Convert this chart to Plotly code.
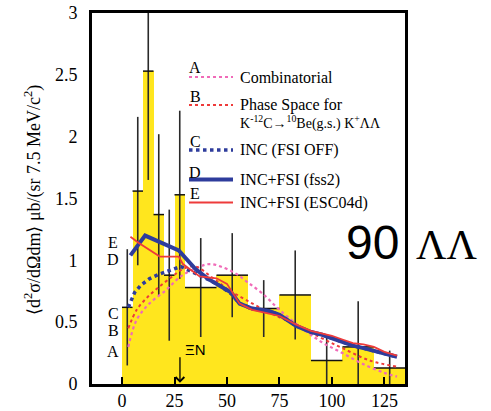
import plotly.graph_objects as go

# ---------------- data ----------------
bin_lo = [0, 5, 10, 15, 20, 25, 30, 45, 60, 75, 90, 105, 120]
bin_hi = [5, 10, 15, 20, 25, 30, 45, 60, 75, 90, 105, 120, 135]
counts = [0.62, 1.56, 2.53, 1.37, 0.88, 1.53, 0.78, 0.88, 0.61, 0.72, 0.19, 0.30, 0.13]
errors = [0.47, 0.60, 0.88, 0.65, 0.53, 0.68, 0.40, 0.34, 0.23, 0.36, 0.19, 0.37, 0.14]

a_x = [3, 7, 13, 21, 28, 37, 42, 47, 54, 60, 67, 75, 85, 95, 105, 115, 125, 131]
a_y = [0.30, 0.52, 0.65, 0.76, 0.87, 0.95, 0.97, 0.95, 0.895, 0.82, 0.73, 0.60, 0.46, 0.34, 0.25, 0.16, 0.09, 0.06]

b_x = [3, 7, 12, 18, 24, 29, 35, 43, 51, 59, 70, 80, 94, 105, 118, 131]
b_y = [0.45, 0.60, 0.70, 0.79, 0.87, 0.93, 0.95, 0.86, 0.76, 0.68, 0.58, 0.50, 0.38, 0.29, 0.19, 0.14]

c_x = [3, 6, 9, 13, 18, 24, 28, 33, 38, 43, 47, 52, 56, 62, 70, 75, 83, 90, 95, 100, 105, 110, 115, 120, 125, 131]
c_y = [0.62, 0.74, 0.80, 0.85, 0.89, 0.93, 0.95, 0.91, 0.87, 0.83, 0.79, 0.73, 0.65, 0.61, 0.59, 0.56, 0.47, 0.42, 0.40, 0.37, 0.34, 0.31, 0.29, 0.27, 0.25, 0.22]

d_x = [4, 11, 27, 35, 41, 47, 52, 56, 62, 70, 75, 83, 90, 95, 100, 105, 110, 115, 120, 125, 131]
d_y = [1.04, 1.20, 1.08, 0.93, 0.85, 0.79, 0.74, 0.65, 0.61, 0.59, 0.56, 0.47, 0.42, 0.40, 0.37, 0.34, 0.31, 0.29, 0.27, 0.25, 0.22]

e_x = [4, 8, 18, 27, 29, 37, 45, 50, 56, 62, 70, 75, 83, 90, 95, 100, 105, 110, 115, 120, 125, 131]
e_y = [1.19, 1.14, 1.03, 1.03, 0.97, 0.87, 0.855, 0.81, 0.65, 0.60, 0.57, 0.55, 0.48, 0.43, 0.41, 0.39, 0.36, 0.33, 0.32, 0.30, 0.26, 0.23]

x_ticks = [0, 25, 50, 75, 100, 125]
y_ticks = [0, 0.5, 1, 1.5, 2, 2.5, 3]
y_ticktext = ["0", "0.5", "1", "1.5", "2", "2.5", "3"]

xi_threshold = 27.6

# ---------------- styling ----------------
SERIF = "Liberation Serif"
SANS = "Liberation Sans"
YELLOW = "#FFE61E"
PINK = "#F06AB8"
REDDOT = "#EE3A3A"
BLUE = "#2E3C9C"
RED = "#EE3B3B"

W_FIG, H_FIG = 491, 411
# plot frame in pixels
L, R, T, B = 92, 405, 13, 384
PW, PH = R - L, B - T


def pp(px, py):
    """pixel -> paper coords"""
    return (px - L) / PW, (B - py) / PH


centers = [(lo + hi) / 2 for lo, hi in zip(bin_lo, bin_hi)]
widths = [hi - lo for lo, hi in zip(bin_lo, bin_hi)]
halfw = [w / 2 for w in widths]

fig = go.Figure()
fig.add_trace(go.Bar(x=centers, y=counts, width=widths, marker=dict(color=YELLOW, line=dict(width=0)),
                     showlegend=False, hoverinfo="skip"))
fig.add_trace(go.Scatter(x=centers, y=counts, mode="markers", marker=dict(size=0.1, color="rgba(0,0,0,0)"),
                         error_y=dict(type="data", array=errors, visible=True, color="#2a2a2a", thickness=1.6, width=0),
                         error_x=dict(type="data", array=halfw, visible=True, color="#111111", thickness=1.5, width=0),
                         showlegend=False, hoverinfo="skip"))

fig.add_trace(go.Scatter(x=a_x, y=a_y, mode="lines", line=dict(color=PINK, width=2.2, dash="dot", shape="spline"), showlegend=False))
fig.add_trace(go.Scatter(x=b_x, y=b_y, mode="lines", line=dict(color=REDDOT, width=2, dash="dot", shape="spline"), showlegend=False))
fig.add_trace(go.Scatter(x=c_x, y=c_y, mode="lines", line=dict(color=BLUE, width=3.5, dash="dot"), showlegend=False))
fig.add_trace(go.Scatter(x=d_x, y=d_y, mode="lines", line=dict(color=BLUE, width=4), showlegend=False))
fig.add_trace(go.Scatter(x=e_x, y=e_y, mode="lines", line=dict(color=RED, width=1.8), showlegend=False))

shapes = []
annotations = []

# legend
legend_items = [
    ("A", 67.5, 77, PINK, 2.2, "dot", "Combinatorial"),
    ("B", 96, 105, REDDOT, 2, "dot", "Phase Space for"),
    ("C", 142, 150, BLUE, 3.5, "dot", "INC (FSI OFF)"),
    ("D", 172, 179.5, BLUE, 4, "solid", "INC+FSI (fss2)"),
    ("E", 194, 202.5, RED, 1.8, "solid", "INC+FSI (ESC04d)"),
]
for letter, ly, sy, col, wd, dash, label in legend_items:
    x0, y0 = pp(189, sy)
    x1, _ = pp(233, sy)
    shapes.append(dict(type="line", xref="paper", yref="paper", x0=x0, x1=x1, y0=y0, y1=y0,
                       line=dict(color=col, width=wd, dash=dash)))
    ax, ay = pp(195, ly)
    annotations.append(dict(text=letter, x=ax, y=ay, xref="paper", yref="paper", showarrow=False,
                            xanchor="center", yanchor="middle", font=dict(family=SERIF, size=16, color="black")))
    tx, ty = pp(238, sy)
    annotations.append(dict(text=label, x=tx, y=ty, xref="paper", yref="paper", showarrow=False,
                            xanchor="left", yanchor="middle", font=dict(family=SERIF, size=16, color="black")))
tx, ty = pp(238, 122)
annotations.append(dict(text="K<sup>-12</sup>C→<sup>10</sup>Be(g.s.) K<sup>+</sup>ΛΛ", x=tx, y=ty, xref="paper", yref="paper",
                        showarrow=False, xanchor="left", yanchor="middle", font=dict(family=SERIF, size=14, color="black")))

# left curve labels
for letter, py in [("E", 242), ("D", 259), ("C", 313), ("B", 330), ("A", 351)]:
    ax, ay = pp(113, py)
    annotations.append(dict(text=letter, x=ax, y=ay, xref="paper", yref="paper", showarrow=False,
                            xanchor="center", yanchor="middle", font=dict(family=SERIF, size=16, color="black")))

# Xi N threshold arrow
annotations.append(dict(x=xi_threshold, y=0.01, xref="x", yref="y", ax=0, ay=-27, showarrow=True,
                        arrowhead=4, arrowsize=1.3, arrowwidth=1.3, arrowcolor="black", text=""))
ax, ay = pp(195, 349)
annotations.append(dict(text="ΞN", x=ax, y=ay, xref="paper", yref="paper", showarrow=False,
                        xanchor="center", yanchor="middle", font=dict(family=SANS, size=15, color="black")))

# big labels
ax, ay = pp(372, 243)
annotations.append(dict(text="90", x=ax, y=ay, xref="paper", yref="paper", showarrow=False,
                        xanchor="center", yanchor="middle", font=dict(family=SANS, size=48, color="black")))
ax, ay = pp(446, 245)
annotations.append(dict(text="ΛΛ", x=ax, y=ay, xref="paper", yref="paper", showarrow=False,
                        xanchor="center", yanchor="middle", font=dict(family=SERIF, size=42, color="black")))

# y-axis title
ax, ay = pp(33, 200)
annotations.append(dict(text="⟨d<sup>2</sup>σ/dΩdm⟩ μb/(sr 7.5 MeV/c<sup>2</sup>)", x=ax, y=ay, xref="paper", yref="paper",
                        showarrow=False, textangle=-90, xanchor="center", yanchor="middle",
                        font=dict(family=SERIF, size=18, color="black")))

fig.update_layout(
    width=W_FIG, height=H_FIG,
    margin=dict(l=L, r=W_FIG - R, t=T, b=H_FIG - B, pad=0, autoexpand=False),
    paper_bgcolor="white", plot_bgcolor="white",
    bargap=0, showlegend=False,
    shapes=shapes, annotations=annotations,
    xaxis=dict(range=[-14.3, 134.8], tickvals=x_ticks, ticks="inside", ticklen=7, tickwidth=1.5, tickcolor="black",
               showline=True, linewidth=3, linecolor="black", mirror=True, showgrid=False, zeroline=False,
               automargin=False, ticklabeloverflow="allow",
               tickfont=dict(family=SERIF, size=18, color="black"), ticklabelstandoff=-2),
    yaxis=dict(range=[0, 3], tickvals=y_ticks, ticktext=y_ticktext, ticks="",
               showline=True, linewidth=3, linecolor="black", mirror=True, showgrid=False, zeroline=False,
               automargin=False, ticklabeloverflow="allow",
               tickfont=dict(family=SERIF, size=18, color="black"), ticklabelstandoff=8),
)

fig.write_html("out.html", config={"displayModeBar": False},
               post_script="document.body.style.margin='0';document.body.style.overflow='hidden';")
